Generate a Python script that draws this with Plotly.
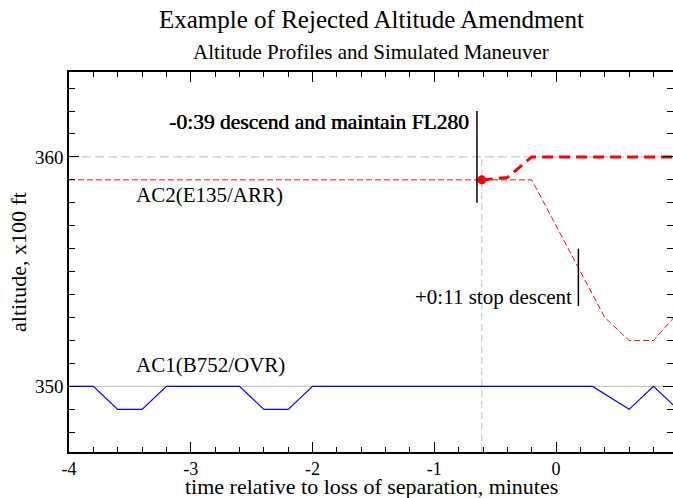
import plotly.graph_objects as go

# AC1 (B752/OVR) altitude profile, x100 ft vs minutes to loss of separation
ac1_t = [-4.0, -3.8, -3.6, -3.4, -3.2, -2.6, -2.4, -2.2, -2.0, 0.3, 0.6, 0.8, 1.0]
ac1_alt = [350, 350, 349, 349, 350, 350, 349, 349, 350, 350, 349, 350, 349]

# AC2 (E135/ARR) actual profile
ac2_t = [-4.0, -0.2, 0.4, 0.6, 0.8, 1.0]
ac2_alt = [359, 359, 353, 352, 352, 353.2]

# simulated maneuver for AC2
man_t = [-0.61, -0.4, -0.2, 1.0]
man_alt = [359, 359.1, 360, 360]

# events
clear_t = -0.65
clear_label = "-0:39 descend and maintain FL280"
stop_t = 0.183
stop_label = "+0:11 stop descent"

# tick labels (plain hyphen minus, as in the original)
x_ticks = [-4, -3, -2, -1, 0]
x_ticklabels = ["-4", "-3", "-2", "-1", "0"]
y_ticks = [350, 360]
y_ticklabels = ["350", "360"]

serif = "Liberation Serif"
gray = "#bdbdbd"
x_range = [-4, 0.96]
y_range = [347.14, 363.7]

fig = go.Figure()

# reference levels
fig.add_shape(type="line", xref="x domain", yref="y", x0=0, x1=1, y0=350, y1=350,
              line=dict(color=gray, width=1), layer="below")
fig.add_shape(type="line", xref="x domain", yref="y", x0=0, x1=1, y0=360, y1=360,
              line=dict(color=gray, width=1, dash="9px,4px"), layer="below")
fig.add_shape(type="line", xref="x", yref="y", x0=man_t[0], x1=man_t[0], y0=y_range[0], y1=360,
              line=dict(color=gray, width=1, dash="7px,4px"), layer="below")

fig.add_trace(go.Scatter(x=ac1_t, y=ac1_alt, mode="lines",
                         line=dict(color="#0000ff", width=1.2), showlegend=False))
fig.add_trace(go.Scatter(x=ac2_t, y=ac2_alt, mode="lines",
                         line=dict(color="#ff0000", width=1, dash="6px,3px"), showlegend=False))
fig.add_trace(go.Scatter(x=man_t, y=man_alt, mode="lines",
                         line=dict(color="#ff0000", width=3, dash="11px,6px"), showlegend=False))
fig.add_trace(go.Scatter(x=[man_t[0]], y=[man_alt[0]], mode="markers",
                         marker=dict(color="#ff0000", size=9), showlegend=False))

# event markers
fig.add_shape(type="line", x0=clear_t, x1=clear_t, y0=358, y1=362, line=dict(color="black", width=1.5))
fig.add_shape(type="line", x0=stop_t, x1=stop_t, y0=353.5, y1=356, line=dict(color="black", width=1.5))

txt = dict(family=serif, size=21, color="black")
# the clearance label is printed heavier in the original
fig.add_annotation(x=clear_t, y=361.5, text=clear_label, showarrow=False,
                   xanchor="right", yanchor="middle", xshift=-6,
                   font=dict(family=serif, size=21.5, color="black", shadow="0.6px 0 0 black"))
fig.add_annotation(x=stop_t, y=353.9, text=stop_label, showarrow=False,
                   xanchor="right", yanchor="middle", xshift=-4, font=txt)
fig.add_annotation(x=-3.47, y=358.35, text="AC2(E135/ARR)", showarrow=False,
                   xanchor="left", yanchor="middle", font=txt)
fig.add_annotation(x=-3.47, y=350.95, text="AC1(B752/OVR)", showarrow=False,
                   xanchor="left", yanchor="middle", font=txt)

# titles
fig.add_annotation(xref="paper", yref="paper", x=0.5, y=1.137, xanchor="center", yanchor="middle",
                   text="Example of Rejected Altitude Amendment",
                   showarrow=False, font=dict(family=serif, size=25, color="black"))
fig.add_annotation(xref="paper", yref="paper", x=0.5, y=1.053, xanchor="center", yanchor="middle",
                   text="Altitude Profiles and Simulated Maneuver",
                   showarrow=False, font=dict(family=serif, size=21, color="black"))

# axis titles
axis_title_font = dict(family=serif, size=22, color="black")
fig.add_annotation(xref="paper", yref="paper", x=0.5, y=0, yshift=-34, xanchor="center", yanchor="middle",
                   text="time relative to loss of separation, minutes", showarrow=False, font=axis_title_font)
fig.add_annotation(xref="paper", yref="paper", x=0, y=0.5, xshift=-51, xanchor="center", yanchor="middle",
                   textangle=-90, text="altitude, x100 ft", showarrow=False, font=axis_title_font)

axis_common = dict(showgrid=False, zeroline=False, showline=True, linecolor="black", linewidth=1.5,
                   mirror="ticks", ticks="inside", ticklen=10, tickwidth=1, tickcolor="black",
                   automargin=False)

fig.update_xaxes(range=x_range, tickmode="array", tickvals=x_ticks, ticktext=x_ticklabels,
                 tickfont=dict(family=serif, size=18, color="black"),
                 minor=dict(dtick=0.2, tick0=-4, ticks="inside", ticklen=5, tickcolor="black"),
                 **axis_common)
fig.update_yaxes(range=y_range, tickmode="array", tickvals=y_ticks, ticktext=y_ticklabels,
                 tickfont=dict(family=serif, size=19, color="black"),
                 minor=dict(dtick=1, tick0=350, ticks="inside", ticklen=6, tickcolor="black"),
                 **axis_common)

fig.update_layout(width=673, height=498, margin=dict(l=69, r=0, t=72, b=46),
                  plot_bgcolor="white", paper_bgcolor="white", showlegend=False)

fig.write_html("out.html", config={"displayModeBar": False},
               post_script="document.body.style.margin='0';document.body.style.overflow='hidden';")
